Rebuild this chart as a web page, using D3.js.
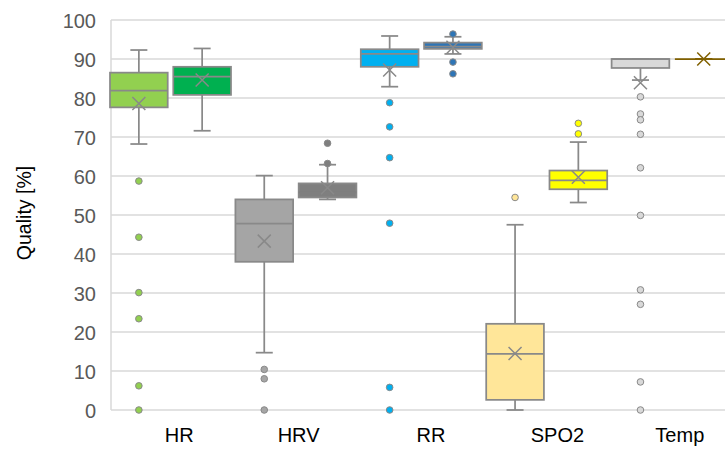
<!DOCTYPE html>
<html>
<head>
<meta charset="utf-8">
<script src="https://cdn.jsdelivr.net/npm/d3@7"></script>
<style>
  html, body { margin: 0; padding: 0; background: #fff; }
  svg { display: block; font-family: "Liberation Sans", Arial, sans-serif; }
</style>
</head>
<body>
<div id="chart"></div>
<script>
// categories and tick labels
const categories = ["HR", "HRV", "RR", "SPO2", "Temp"];
const yTicks = [0, 10, 20, 30, 40, 50, 60, 70, 80, 90, 100];

// first box of each category
const min1    = [68.2, 14.7, 82.9,  0.0, 84.6];
const q1_1    = [77.6, 38.0, 88.0,  2.6, 87.7];
const median1 = [81.9, 47.8, 91.3, 14.4, 90.0];
const q3_1    = [86.5, 54.0, 92.5, 22.1, 90.0];
const max1    = [92.3, 60.1, 95.9, 47.5, 90.0];
const mean1   = [78.6, 43.3, 87.2, 14.5, 83.9];
const outliers1 = [
  [58.7, 44.3, 30.1, 23.4, 6.2, 0],
  [10.4, 8.0, 0],
  [78.8, 72.6, 64.7, 47.9, 5.8, 0],
  [54.5],
  [80.3, 75.9, 74.4, 70.7, 62.1, 49.9, 30.8, 27.1, 7.2, 0]
];

// second box of each category
const min2    = [71.6, 54.0, 91.3, 53.2, 90.0];
const q1_2    = [80.8, 54.5, 92.6, 56.6, 90.0];
const median2 = [85.5, 55.8, 93.2, 58.9, 90.0];
const q3_2    = [88.0, 58.1, 94.2, 61.4, 90.0];
const max2    = [92.7, 62.9, 95.7, 68.7, 90.0];
const mean2   = [84.6, 57.0, 93.0, 59.7, 90.0];
const outliers2 = [
  [],
  [63.2, 68.4],
  [96.4, 89.2, 86.2],
  [73.5, 70.8],
  []
];

const fill1 = ["#92D050", "#A5A5A5", "#00B0F0", "#FFE699", "#D9D9D9"];
const fill2 = ["#00B050", "#7F7F7F", "#2E75B6", "#FFFF00", "#806000"];

// build box records from the arrays
const boxes = [];
categories.forEach((c, i) => {
  boxes.push({ cat: c, k: 0, min: min1[i], q1: q1_1[i], med: median1[i], q3: q3_1[i], max: max1[i],
               mean: mean1[i], out: outliers1[i], fill: fill1[i] });
  boxes.push({ cat: c, k: 1, min: min2[i], q1: q1_2[i], med: median2[i], q3: q3_2[i], max: max2[i],
               mean: mean2[i], out: outliers2[i], fill: fill2[i] });
});

const width = 725, height = 449;
const grey = "#898989";
const labelDx = [6, 0, 7, 8, 5]; // category labels sit a bit off-centre in the original

const svg = d3.select("#chart").append("svg")
  .attr("width", width)
  .attr("height", height);

const y = d3.scaleLinear().domain([0, 100]).range([410, 20]);
const x = d3.scaleBand().domain(categories).range([110.5, 737.5]);
const xs = d3.scaleBand().domain([0, 1]).range([-0.5, 120.5]).paddingInner(0.088).paddingOuter(0);

// gridlines
svg.append("g")
  .selectAll("line")
  .data(yTicks)
  .join("line")
  .attr("x1", 111).attr("x2", width)
  .attr("y1", d => y(d)).attr("y2", d => y(d))
  .attr("stroke", "#D9D9D9")
  .attr("stroke-width", 1.5);

svg.append("line")
  .attr("x1", 111).attr("x2", 111)
  .attr("y1", y(100)).attr("y2", y(0))
  .attr("stroke", "#D9D9D9")
  .attr("stroke-width", 1.5);

// y tick labels
svg.append("g")
  .selectAll("text")
  .data(yTicks)
  .join("text")
  .attr("x", 96)
  .attr("y", d => y(d))
  .attr("dy", "0.42em")
  .attr("text-anchor", "end")
  .attr("fill", "#595959")
  .style("font-size", "20px")
  .text(d => d);

// y title
svg.append("text")
  .attr("transform", "translate(31,213) rotate(-90)")
  .attr("text-anchor", "middle")
  .attr("fill", "#000")
  .style("font-size", "19.5px")
  .text("Quality [%]");

// category labels
svg.append("g")
  .selectAll("text")
  .data(categories)
  .join("text")
  .attr("x", (d, i) => x(d) + x.bandwidth() / 2 + labelDx[i])
  .attr("y", 442)
  .attr("text-anchor", "middle")
  .attr("fill", "#000")
  .style("font-size", "20px")
  .text(d => d);

// boxes
const bw = xs.bandwidth();
const capW = 17;
const g = svg.append("g")
  .selectAll("g")
  .data(boxes)
  .join("g")
  .attr("transform", d => `translate(${x(d.cat) + xs(d.k)},0)`);

const strokeOf = d => d.fill === "#806000" ? "#806000" : grey;

// whiskers
g.append("line")
  .attr("x1", bw / 2).attr("x2", bw / 2)
  .attr("y1", d => y(d.max)).attr("y2", d => y(d.q3))
  .attr("stroke", strokeOf).attr("stroke-width", 1.75);
g.append("line")
  .attr("x1", bw / 2).attr("x2", bw / 2)
  .attr("y1", d => y(d.q1)).attr("y2", d => y(d.min))
  .attr("stroke", strokeOf).attr("stroke-width", 1.75);
g.append("line")
  .attr("x1", bw / 2 - capW / 2).attr("x2", bw / 2 + capW / 2)
  .attr("y1", d => y(d.max)).attr("y2", d => y(d.max))
  .attr("stroke", strokeOf).attr("stroke-width", 1.75);
g.append("line")
  .attr("x1", bw / 2 - capW / 2).attr("x2", bw / 2 + capW / 2)
  .attr("y1", d => y(d.min)).attr("y2", d => y(d.min))
  .attr("stroke", strokeOf).attr("stroke-width", 1.75);

// box body
g.append("rect")
  .attr("x", 0)
  .attr("width", bw)
  .attr("y", d => y(d.q3))
  .attr("height", d => y(d.q1) - y(d.q3))
  .attr("fill", d => d.fill)
  .attr("stroke", strokeOf)
  .attr("stroke-width", 1.75);

// median (hidden against the dark grey fill in the original)
g.append("line")
  .attr("x1", 0).attr("x2", bw)
  .attr("y1", d => y(d.med)).attr("y2", d => y(d.med))
  .attr("stroke", d => d.fill === "#7F7F7F" ? d.fill : strokeOf(d))
  .attr("stroke-width", 1.75);

// mean marker
const m = 6.5;
g.append("path")
  .attr("d", d => {
    const cx = bw / 2, cy = y(d.mean);
    return `M${cx - m},${cy - m}L${cx + m},${cy + m}M${cx - m},${cy + m}L${cx + m},${cy - m}`;
  })
  .attr("fill", "none")
  .attr("stroke", strokeOf)
  .attr("stroke-width", 1.5);

// outliers
g.selectAll("circle")
  .data(d => d.out.map(v => ({ v, fill: d.fill })))
  .join("circle")
  .attr("cx", bw / 2)
  .attr("cy", d => y(d.v))
  .attr("r", 3.3)
  .attr("fill", d => d.fill)
  .attr("stroke", grey)
  .attr("stroke-width", 1);
</script>
</body>
</html>
